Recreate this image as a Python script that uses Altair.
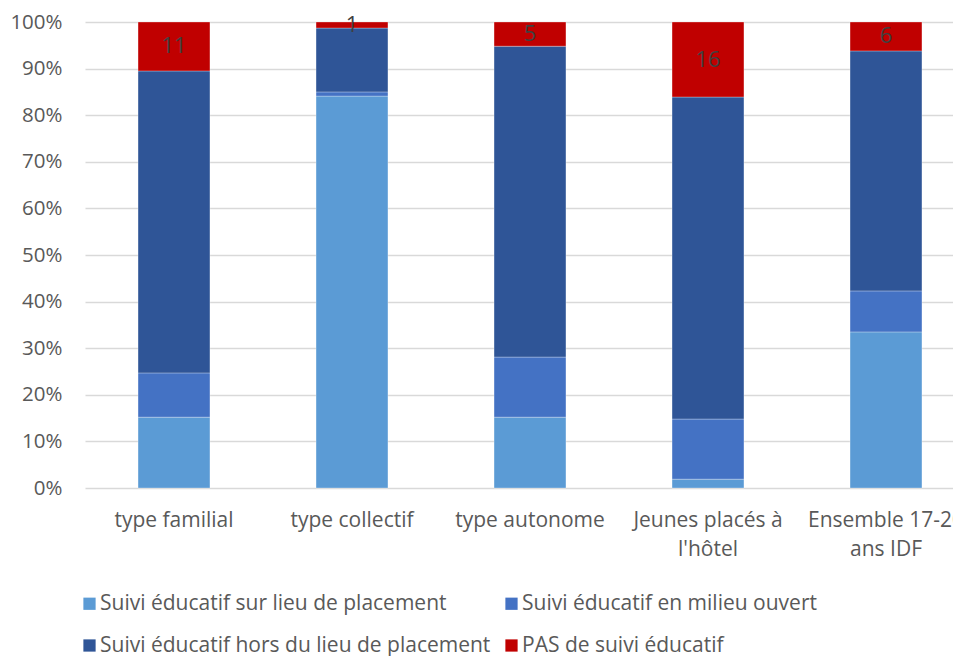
import altair as alt
import pandas as pd

categories = ["type familial", "type collectif", "type autonome",
              "Jeunes placés à\nl'hôtel", "Ensemble 17-20\nans IDF"]
series = ["Suivi éducatif sur lieu de placement",
          "Suivi éducatif en milieu ouvert",
          "Suivi éducatif hors du  lieu de placement",
          "PAS de suivi éducatif"]
colors = ["#5B9BD5", "#4472C4", "#2F5597", "#C00000"]

sur_lieu = [15.2, 84.1, 15.2, 1.9, 33.5]
milieu_ouvert = [9.5, 0.9, 12.9, 12.9, 8.8]
hors_lieu = [64.8, 13.7, 66.7, 69.1, 51.5]
pas_suivi = [10.5, 1.3, 5.2, 16.1, 6.2]

values_by_series = [sur_lieu, milieu_ouvert, hors_lieu, pas_suivi]
rows = []
for si, (s, vals) in enumerate(zip(series, values_by_series)):
    for c, v in zip(categories, vals):
        rows.append({"cat": c, "serie": s, "idx": si, "val": v})
df = pd.DataFrame(rows)

FONT = "Open Sans"
GREY = "#595959"

x = alt.X("cat:N", sort=categories, title=None,
          scale=alt.Scale(range=[0, 890], paddingInner=0.596, paddingOuter=0.298),
          axis=alt.Axis(labelAngle=0, ticks=False, domain=False, labelFontSize=21,
                        labelColor=GREY, labelFont=FONT, labelPadding=21,
                        labelLineHeight=29, labelExpr="split(datum.label, '\\n')"))

bars = alt.Chart(df).mark_bar(stroke="#FFFFFF", strokeWidth=0.6, strokeOpacity=0.5).encode(
    x=x,
    y=alt.Y("val:Q", stack="zero", title=None,
            scale=alt.Scale(domain=[0, 100], nice=False),
            axis=alt.Axis(values=list(range(0, 101, 10)), labelExpr="datum.value + '%'",
                          ticks=False, domain=False, labelFontSize=20.5, labelColor=GREY,
                          labelFont=FONT, labelPadding=23, gridColor="#D9D9D9",
                          gridWidth=1.3)),
    color=alt.Color("serie:N", scale=alt.Scale(domain=series, range=colors),
                    legend=alt.Legend(title=None, orient="none", legendX=-6, legendY=571,
                                      columns=2, direction="horizontal",
                                      symbolType="square", symbolSize=150,
                                      symbolStrokeWidth=0, labelFontSize=21,
                                      labelColor=GREY, labelFont=FONT, labelOffset=0,
                                      rowPadding=20, columnPadding=5, labelLimit=500)),
    order=alt.Order("idx:Q"),
)

labels = alt.Chart(df).transform_stack(
    stack="val", groupby=["cat"], as_=["y0", "y1"], sort=[alt.SortField("idx")]
).transform_filter(
    alt.datum.idx == 3
).transform_calculate(
    mid="(datum.y0 + datum.y1) / 2", lab="format(round(datum.val), 'd')"
).mark_text(fontSize=22, color="#404040", font=FONT, baseline="middle").encode(
    x=alt.X("cat:N", sort=categories),
    y=alt.Y("mid:Q"),
    text="lab:N",
)

chart = alt.layer(bars, labels).properties(
    width=868, height=466,
    autosize=alt.AutoSizeParams(type="none"),
    padding={"left": 77, "top": 14, "right": 0, "bottom": 168},
).configure_view(stroke=None)

chart.save("out.html", embed_options={"renderer": "svg", "actions": False})
